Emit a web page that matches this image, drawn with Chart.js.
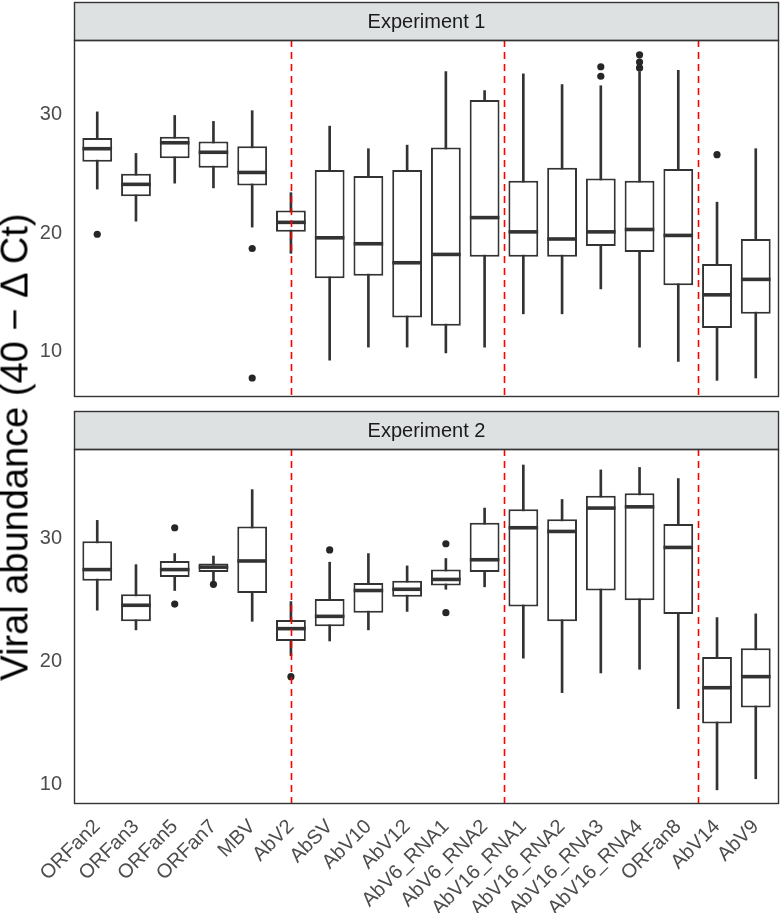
<!DOCTYPE html>
<html><head><meta charset="utf-8">
<script src="https://cdn.jsdelivr.net/npm/chart.js@4.4.0/dist/chart.umd.min.js"></script>
<style>
html,body{margin:0;padding:0;background:#fff;overflow:hidden;}
#wrap{position:relative;width:780px;height:913px;overflow:hidden;}
#c1{position:absolute;left:0;top:0;}
#c2{position:absolute;left:0;top:400px;}
#ytitle{position:absolute;left:15px;top:447px;transform:translate(-50%,-50%) rotate(-90deg);white-space:nowrap;font-family:"Liberation Sans",Arial,sans-serif;font-size:38px;color:#000;}
</style></head><body>
<div id="wrap">
<canvas id="c1" width="780" height="400"></canvas>
<canvas id="c2" width="780" height="513"></canvas>
<div id="ytitle">Viral abundance (40 − Δ Ct)</div>
</div>
<script>
const categories = ["ORFan2","ORFan3","ORFan5","ORFan7","MBV","AbV2","AbSV","AbV10","AbV12","AbV6_RNA1","AbV6_RNA2","AbV16_RNA1","AbV16_RNA2","AbV16_RNA3","AbV16_RNA4","ORFan8","AbV14","AbV9"];
const yTickValues = [10, 20, 30];
const dividerPositions = [6, 11.5, 16.5];
const panelTitles = ["Experiment 1", "Experiment 2"];

// Experiment 1
const exp1Lower  = [23.7, 21.0, 24.2, 23.8, 20.5, 18.3, 9.3, 10.4, 10.4, 9.9, 10.4, 13.2, 13.2, 15.3, 10.4, 9.2, 7.6, 7.8];
const exp1Q1     = [26.0, 23.1, 26.3, 25.5, 24.0, 20.1, 16.2, 16.4, 12.9, 12.2, 18.0, 18.0, 18.0, 18.9, 18.4, 15.6, 12.0, 13.2];
const exp1Median = [27.1, 24.1, 27.6, 26.8, 25.1, 20.9, 19.6, 19.1, 17.5, 18.2, 21.3, 20.1, 19.5, 20.1, 20.3, 19.8, 14.8, 16.1];
const exp1Q3     = [28.0, 25.0, 28.1, 27.7, 27.3, 21.9, 25.3, 24.8, 25.3, 27.2, 31.2, 24.4, 25.5, 24.6, 24.4, 25.4, 17.4, 19.5];
const exp1Upper  = [30.2, 26.7, 29.9, 29.4, 30.3, 23.4, 29.0, 27.1, 27.4, 33.6, 32.0, 33.4, 32.5, 32.4, 33.6, 33.7, 22.6, 27.1];
const exp1Outliers = [[19.9],[],[],[],[18.7,7.8],[],[],[],[],[],[],[],[],[34.0,33.2],[35.0,34.4,33.9],[],[26.6],[]];

// Experiment 2
const exp2Lower  = [24.2, 22.6, 25.8, 26.5, 23.3, 20.5, 21.7, 22.6, 24.1, 25.9, 26.1, 20.3, 17.5, 19.1, 19.4, 16.2, 9.6, 10.5];
const exp2Q1     = [26.6, 23.3, 26.9, 27.3, 25.6, 21.7, 22.9, 24.0, 25.3, 26.2, 27.3, 24.5, 23.3, 25.8, 25.0, 23.9, 15.0, 16.3];
const exp2Median = [27.5, 24.6, 27.5, 27.7, 28.2, 22.7, 23.7, 25.8, 25.9, 26.7, 28.3, 30.9, 30.6, 32.5, 32.6, 29.3, 17.9, 18.8];
const exp2Q3     = [29.8, 25.5, 28.2, 28.0, 31.0, 23.4, 25.1, 26.4, 26.6, 27.5, 31.3, 32.4, 31.6, 33.5, 33.7, 31.2, 20.4, 21.1];
const exp2Upper  = [31.5, 27.9, 28.8, 28.6, 34.0, 24.9, 28.1, 28.8, 27.8, 28.4, 32.5, 36.0, 33.2, 35.6, 35.8, 34.9, 23.6, 23.9];
const exp2Outliers = [[],[],[30.9,24.7],[26.3],[],[18.8],[29.1],[],[],[29.6,24.0],[],[],[],[],[],[],[],[]];

const FONT = '"Liberation Sans", Arial, Helvetica, sans-serif';
const INK = '#333333';

const panelPlugin = {
  id: 'panelDecor',
  beforeDraw(chart) {
    const {ctx, chartArea: a} = chart;
    const o = chart.options.plugins.panelDecor;
    ctx.save();
    ctx.fillStyle = '#dde1e1';
    ctx.fillRect(a.left, a.top - o.stripHeight, a.right - a.left, o.stripHeight);
    ctx.restore();
  },
  afterDatasetsDraw(chart) {
    const {ctx, chartArea: a, scales} = chart;
    const o = chart.options.plugins.panelDecor;
    ctx.save();
    ctx.strokeStyle = '#ff0000';
    ctx.lineWidth = 1.6;
    ctx.setLineDash([7, 5]);
    o.dividers.forEach(d => {
      const x = Math.round(scales.x.getPixelForValue(d)) + 0.5;
      ctx.beginPath();
      ctx.moveTo(x, a.top);
      ctx.lineTo(x, a.bottom);
      ctx.stroke();
    });
    ctx.restore();
  },
  afterDraw(chart) {
    const {ctx, chartArea: a} = chart;
    const o = chart.options.plugins.panelDecor;
    ctx.save();
    ctx.strokeStyle = '#333333';
    ctx.lineWidth = 1.4;
    ctx.strokeRect(a.left + 0.5, a.top - o.stripHeight + 0.5, a.right - a.left - 1, o.stripHeight);
    ctx.strokeRect(a.left + 0.5, a.top + 0.5, a.right - a.left - 1, a.bottom - a.top - 1);
    ctx.fillStyle = '#1a1a1a';
    ctx.font = '20px ' + FONT;
    ctx.textAlign = 'center';
    ctx.textBaseline = 'middle';
    ctx.fillText(o.title, (a.left + a.right) / 2, a.top - o.stripHeight / 2 + 1);
    ctx.restore();
  }
};

function zeroPad(s) { s.paddingLeft = 0; s.paddingRight = 0; s.paddingTop = 0; s.paddingBottom = 0; }

function makePanel(canvasId, title, lower, q1, median, q3, upper, outliers, yMin, yMax, showX) {
  const pts = [];
  outliers.forEach((arr, i) => arr.forEach(v => pts.push({x: i + 1, y: v})));
  return new Chart(document.getElementById(canvasId), {
    data: {
      datasets: [
        {type: 'scatter', order: 1, data: pts, pointRadius: 3.6, pointHoverRadius: 3.6,
         backgroundColor: '#262626', borderWidth: 0},
        {type: 'scatter', order: 2, data: median.map((v, i) => ({x: i + 1, y: v})),
         pointStyle: 'line', pointRadius: 14.8, pointHoverRadius: 14.8, borderColor: INK, borderWidth: 3.6,
         backgroundColor: INK},
        {type: 'bar', order: 3, data: q1.map((v, i) => ({x: i + 1, y: [v, q3[i]]})),
         backgroundColor: '#ffffff', borderColor: INK, borderWidth: 2, borderSkipped: false,
         grouped: false, barPercentage: 0.77, categoryPercentage: 1},
        {type: 'bar', order: 4, data: lower.map((v, i) => ({x: i + 1, y: [v, upper[i]]})),
         backgroundColor: INK, borderWidth: 0, grouped: false, barThickness: 2}
      ]
    },
    options: {
      responsive: false,
      animation: false,
      events: [],
      layout: {
        autoPadding: false,
        padding: showX ? {top: 49, right: 1, bottom: 0, left: 0} : {top: 40, right: 1, bottom: 3, left: 0}
      },
      plugins: {
        legend: {display: false},
        tooltip: {enabled: false},
        panelDecor: {title: title, stripHeight: 38, dividers: dividerPositions}
      },
      scales: {
        x: {
          type: 'linear', min: 0.4, max: 18.6, offset: false, display: showX,
          grid: {display: false, offset: false}, border: {display: false},
          afterBuildTicks: s => { s.ticks = categories.map((c, i) => ({value: i + 1})); },
          afterFit: s => { zeroPad(s); if (showX) s.height = 109; },
          ticks: {
            autoSkip: false, maxRotation: 45, minRotation: 45, padding: 3,
            color: '#4d4d4d', font: {family: FONT, size: 20},
            callback: v => categories[Math.round(v) - 1]
          }
        },
        y: {
          type: 'linear', min: yMin, max: yMax,
          grid: {display: false, drawTicks: false}, border: {display: false},
          afterBuildTicks: s => { s.ticks = yTickValues.map(v => ({value: v})); },
          afterFit: s => { zeroPad(s); s.width = 74; },
          ticks: {padding: 12, color: '#4d4d4d', font: {family: FONT, size: 20}}
        }
      }
    },
    plugins: [panelPlugin]
  });
}

makePanel('c1', panelTitles[0], exp1Lower, exp1Q1, exp1Median, exp1Q3, exp1Upper, exp1Outliers, 6.2, 36.25, false);
makePanel('c2', panelTitles[1], exp2Lower, exp2Q1, exp2Median, exp2Q3, exp2Upper, exp2Outliers, 8.45, 37.3, true);
</script>
</body></html>
